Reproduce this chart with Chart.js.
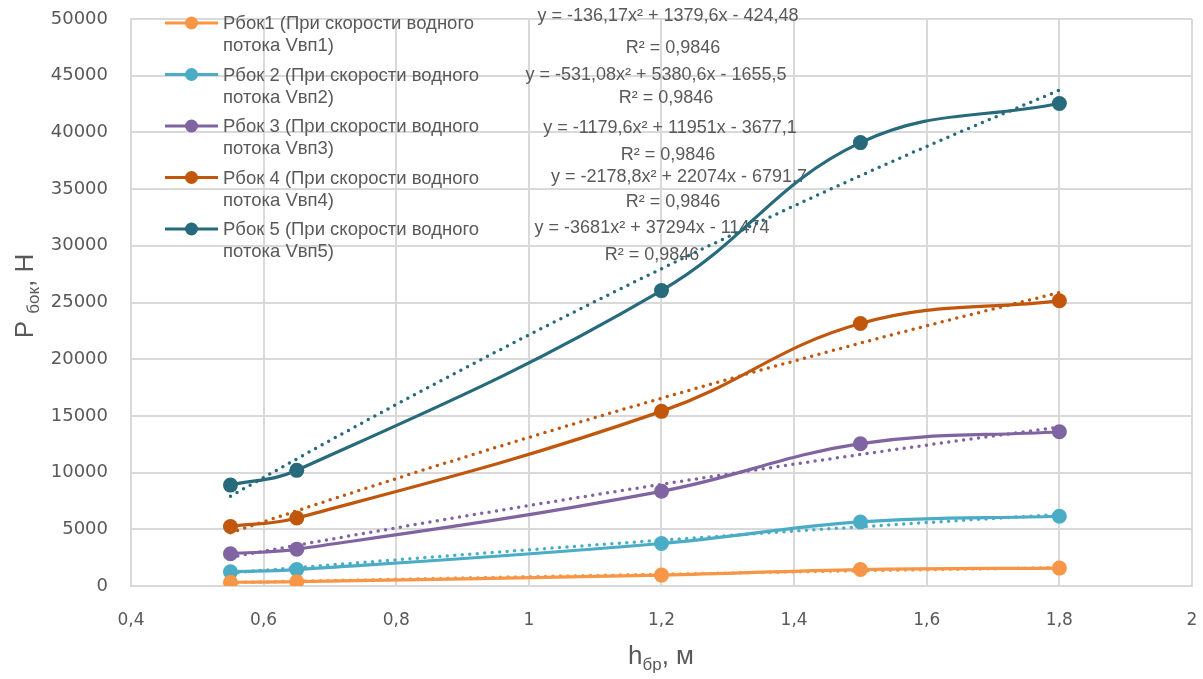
<!DOCTYPE html>
<html>
<head>
<meta charset="utf-8">
<script src="https://cdn.jsdelivr.net/npm/chart.js@4.4.0/dist/chart.umd.min.js"></script>
<style>
  html, body { margin: 0; padding: 0; background: #fff; }
</style>
</head>
<body>
<canvas id="chart" width="1203" height="679"></canvas>
<script>
// h_бр, м
const xValues = [0.55, 0.65, 1.2, 1.5, 1.8]

// Рбок, Н for each water flow speed
const pBok1 = [330, 380, 960, 1450, 1580]
const pBok2 = [1250, 1450, 3750, 5650, 6150]
const pBok3 = [2850, 3250, 8350, 12550, 13600]
const pBok4 = [5250, 6000, 15400, 23150, 25150]
const pBok5 = [8900, 10200, 26050, 39100, 42550]

// polynomial trendlines
const trendX = [0.55, 0.7, 0.85, 1.0, 1.15, 1.3, 1.45, 1.6, 1.8]
const trend1 = [293, 475, 650, 819, 982, 1139, 1290, 1434, 1618]
const trend2 = [1143, 1851, 2534, 3194, 3830, 4442, 5030, 5594, 6309]
const trend3 = [2539, 4111, 5629, 7094, 8507, 9866, 11172, 12425, 14013]
const trend4 = [4690, 7593, 10397, 13104, 15712, 18222, 20635, 22949, 25882]
const trend5 = [7924, 12828, 17566, 22139, 26546, 30787, 34863, 38773, 43729]

const seriesNames = [
  ['Рбок1 (При скорости водного', 'потока Vвп1)'],
  ['Рбок 2 (При скорости водного', 'потока Vвп2)'],
  ['Рбок 3 (При скорости водного', 'потока Vвп3)'],
  ['Рбок 4 (При скорости водного', 'потока Vвп4)'],
  ['Рбок 5 (При скорости водного', 'потока Vвп5)']
]
const equations = [
  'y = -136,17x² + 1379,6x - 424,48',
  'y = -531,08x² + 5380,6x - 1655,5',
  'y = -1179,6x² + 11951x - 3677,1',
  'y = -2178,8x² + 22074x - 6791,7',
  'y = -3681x² + 37294x - 11474'
]
const rSquared = ['R² = 0,9846', 'R² = 0,9846', 'R² = 0,9846', 'R² = 0,9846', 'R² = 0,9846']

const xMin = 0.4, xMax = 2, xStep = 0.2
const yMin = 0, yMax = 50000, yStep = 5000

const COLORS = ['#F79646', '#4BACC6', '#8064A2', '#C0570C', '#276A7C']
const TEXT = '#595959'
const GRID = '#D9D9D9'

const seriesData = [pBok1, pBok2, pBok3, pBok4, pBok5]
const trendData = [trend1, trend2, trend3, trend4, trend5]

const toPoints = (xs, ys) => xs.map((x, i) => ({ x, y: ys[i] }))

const datasets = []
seriesData.forEach((ys, i) => {
  datasets.push({
    label: seriesNames[i].join(' '),
    data: toPoints(xValues, ys),
    borderColor: COLORS[i],
    backgroundColor: COLORS[i],
    borderWidth: 3.2,
    pointRadius: 7.5,
    pointBorderWidth: 0,
    pointBackgroundColor: COLORS[i],
    tension: 0.4,
    order: 2
  })
})
trendData.forEach((ys, i) => {
  datasets.push({
    label: 'trend' + (i + 1),
    data: toPoints(trendX, ys),
    borderColor: COLORS[i],
    borderWidth: 3.5,
    borderDash: [0, 7.5],
    borderCapStyle: 'round',
    pointRadius: 0,
    cubicInterpolationMode: 'monotone',
    order: 1
  })
})

// legend drawn inside the plot, top left, two lines per entry
const legendPlugin = {
  id: 'excelLegend',
  afterDatasetsDraw(chart) {
    const ctx = chart.ctx
    ctx.save()
    ctx.font = '18.5px "Liberation Sans", Arial, sans-serif'
    ctx.textBaseline = 'middle'
    ctx.textAlign = 'left'
    seriesNames.forEach((lines, i) => {
      const yc = 23 + i * 51.5
      ctx.strokeStyle = COLORS[i]
      ctx.lineWidth = 3
      ctx.beginPath()
      ctx.moveTo(165, yc)
      ctx.lineTo(218, yc)
      ctx.stroke()
      ctx.fillStyle = COLORS[i]
      ctx.beginPath()
      ctx.arc(191.5, yc, 6.5, 0, Math.PI * 2)
      ctx.fill()
      ctx.fillStyle = TEXT
      ctx.fillText(lines[0], 223, yc + 1)
      ctx.fillText(lines[1], 223, yc + 23)
    })
    ctx.restore()
  }
}

// trendline equations, placed as in the original
const eqPos = [
  { x: 668, y: 16, rx: 673, ry: 48 },
  { x: 656, y: 75, rx: 666, ry: 98 },
  { x: 670, y: 128, rx: 668, ry: 155 },
  { x: 679, y: 177, rx: 673, ry: 202 },
  { x: 652, y: 228, rx: 652, ry: 255 }
]
const equationPlugin = {
  id: 'equations',
  beforeDatasetsDraw(chart) {
    const ctx = chart.ctx
    ctx.save()
    ctx.font = '18px "Liberation Sans", Arial, sans-serif'
    ctx.fillStyle = TEXT
    ctx.textAlign = 'center'
    ctx.textBaseline = 'middle'
    equations.forEach((eq, i) => {
      ctx.fillText(eq, eqPos[i].x, eqPos[i].y)
      ctx.fillText(rSquared[i], eqPos[i].rx, eqPos[i].ry)
    })
    ctx.restore()
  }
}

// axis titles with subscripts
function drawSubTitle(ctx, parts) {
  let w = 0
  parts.forEach(p => { ctx.font = p.font; w += ctx.measureText(p.text).width })
  let x = -w / 2
  parts.forEach(p => {
    ctx.font = p.font
    ctx.fillText(p.text, x, p.dy)
    x += ctx.measureText(p.text).width
  })
}
const titlePlugin = {
  id: 'axisTitles',
  afterDraw(chart) {
    const ctx = chart.ctx
    const big = '26px "Liberation Sans", Arial, sans-serif'
    const small = '17px "Liberation Sans", Arial, sans-serif'
    ctx.save()
    ctx.fillStyle = TEXT
    ctx.textAlign = 'left'
    ctx.textBaseline = 'alphabetic'
    ctx.save()
    ctx.translate(661, 664)
    drawSubTitle(ctx, [
      { text: 'h', font: big, dy: 0 },
      { text: 'бр', font: small, dy: 6 },
      { text: ', м', font: big, dy: 0 }
    ])
    ctx.restore()
    ctx.save()
    ctx.translate(33, 296)
    ctx.rotate(-Math.PI / 2)
    drawSubTitle(ctx, [
      { text: 'P ', font: big, dy: 0 },
      { text: 'бок', font: small, dy: 6 },
      { text: ', H', font: big, dy: 0 }
    ])
    ctx.restore()
    ctx.restore()
  }
}

new Chart(document.getElementById('chart'), {
  type: 'line',
  data: { datasets },
  plugins: [equationPlugin, legendPlugin, titlePlugin],
  options: {
    responsive: false,
    animation: false,
    layout: { padding: { top: 19, right: 11, left: 0, bottom: 0 } },
    plugins: {
      legend: { display: false },
      tooltip: { enabled: false }
    },
    scales: {
      x: {
        type: 'linear',
        min: xMin,
        max: xMax,
        grid: { color: GRID, lineWidth: 2, drawTicks: false },
        border: { color: GRID, width: 2 },
        ticks: {
          stepSize: xStep,
          padding: 24,
          color: TEXT,
          font: { family: 'DejaVu Sans', size: 17 },
          callback: (v) => String(Math.round(v * 10) / 10).replace('.', ',')
        },
        afterFit: (scale) => {
          scale.height = 93
          scale.paddingLeft = 0
          scale.paddingRight = 0
        }
      },
      y: {
        min: yMin,
        max: yMax,
        grid: { color: GRID, lineWidth: 2, drawTicks: false },
        border: { color: GRID, width: 2 },
        ticks: {
          stepSize: yStep,
          padding: 23,
          color: TEXT,
          font: { family: 'DejaVu Sans', size: 18 },
          callback: (v) => String(v)
        },
        afterFit: (scale) => {
          scale.width = 131
          scale.paddingTop = 0
          scale.paddingBottom = 0
        }
      }
    }
  }
})
</script>
</body>
</html>
